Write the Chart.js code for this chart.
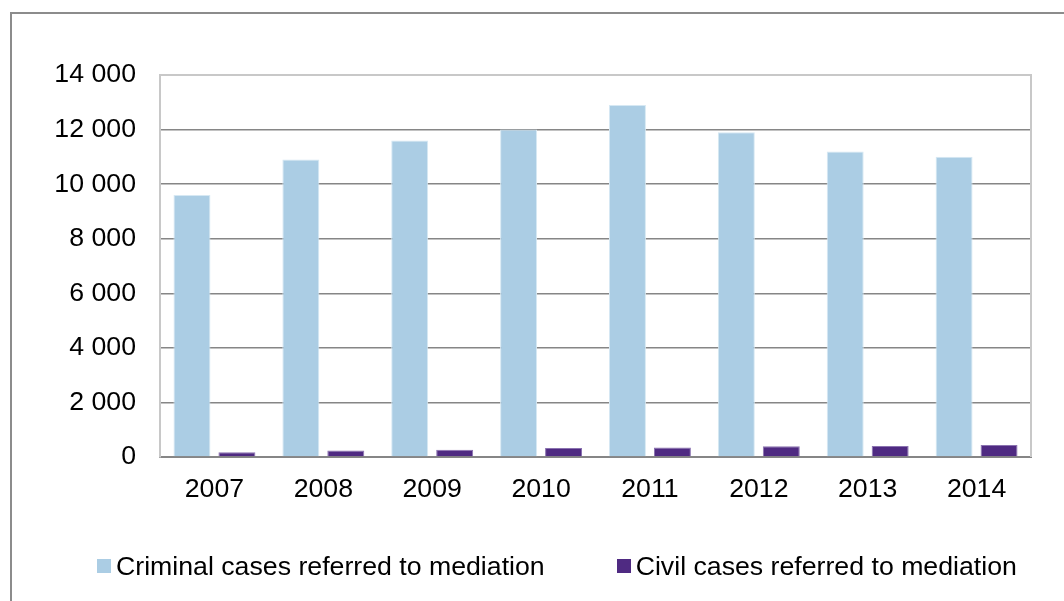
<!DOCTYPE html>
<html>
<head>
<meta charset="utf-8">
<script src="https://cdn.jsdelivr.net/npm/chart.js@4"></script>
<style>
  html, body { margin: 0; padding: 0; background: #fff; overflow: hidden; }
  #wrap { position: relative; width: 1064px; height: 601px; }
  #frame { position: absolute; left: 10px; top: 12px; width: 1100px; height: 640px;
           border: 2px solid #8c8c8c; box-sizing: border-box; pointer-events: none; }
  #js-legend ul { position: absolute; left: 97px; top: 552px; margin: 0; padding: 0;
                  list-style: none; display: flex; gap: 72px;
                  font-family: "Liberation Sans", Arial, sans-serif; font-size: 26.7px; color: #000; }
  #js-legend li { display: flex; align-items: center; line-height: 28px; }
  #js-legend span { display: inline-block; width: 14px; height: 14px; margin-right: 5px; }
</style>
</head>
<body>
<div id="wrap">
  <canvas id="cases-chart" width="1064" height="601"></canvas>
  <div id="frame"></div>
  <div id="js-legend"></div>
</div>
<script>
let years = ['2007', '2008', '2009', '2010', '2011', '2012', '2013', '2014'];
let criminalCases = [9600, 10900, 11600, 12000, 12900, 11900, 11200, 11000];
let civilCases = [170, 240, 270, 330, 345, 390, 405, 440];
let seriesNames = ['Criminal cases referred to mediation', 'Civil cases referred to mediation'];
let colours = ['#abcde4', '#4f2a82'];

let chartData = {
  labels: years,
  datasets: [
    { label: seriesNames[0], data: criminalCases, backgroundColor: colours[0],
      borderColor: '#d6e8f3', borderWidth: 1 },
    { label: seriesNames[1], data: civilCases, backgroundColor: colours[1],
      borderColor: '#8a72b0', borderWidth: 1 }
  ]
};

const fmt = v => String(v).replace(/\B(?=(\d{3})+(?!\d))/g, ' ');

// right and top edge of the plot area, light grey like the left one
const plotFrame = {
  id: 'plotFrame',
  beforeDatasetsDraw(chart) {
    const { ctx, chartArea: a } = chart;
    ctx.save();
    ctx.strokeStyle = '#c8c8c8';
    ctx.lineWidth = 2;
    ctx.beginPath();
    ctx.moveTo(a.left, a.top);
    ctx.lineTo(a.right, a.top);
    ctx.lineTo(a.right, a.bottom);
    ctx.stroke();
    ctx.restore();
  }
};

window.addEventListener('DOMContentLoaded', () => {
  const box = document.getElementById('cases-chart');
  const legendBox = document.getElementById('js-legend');
  const font = { family: '"Liberation Sans", Arial, sans-serif', size: 26.7 };

  new Chart(box, {
    type: 'bar',
    data: chartData,
    options: {
      responsive: false,
      animation: false,
      layout: { padding: { left: 0, top: 75, right: 33, bottom: 0 } },
      datasets: { bar: { categoryPercentage: 0.826, barPercentage: 0.822 } },
      plugins: {
        legend: { display: false },
        tooltip: { enabled: false }
      },
      scales: {
        x: {
          grid: { display: false, drawTicks: false },
          border: { color: '#868686', width: 2 },
          ticks: { color: '#000', font: font, padding: 17, maxRotation: 0 },
          afterFit: s => { s.height = 144; }
        },
        y: {
          min: 0, max: 14000,
          grid: {
            drawTicks: false,
            color: c => c.tick.value === 14000 ? '#c8c8c8' : '#868686',
            lineWidth: 1.5
          },
          border: { color: '#c8c8c8', width: 2 },
          ticks: { stepSize: 2000, color: '#000', font: font, padding: 24,
                   callback: v => fmt(v) },
          afterFit: s => { s.width = 160; }
        }
      }
    },
    plugins: [plotFrame, {
      beforeInit(chart) {
        const ul = document.createElement('ul');
        chart.data.datasets.forEach(ds => {
          ul.innerHTML += `<li><span style="background-color: ${ds.backgroundColor}"></span>${ds.label}</li>`;
        });
        legendBox.appendChild(ul);
      }
    }]
  });
});
</script>
</body>
</html>
